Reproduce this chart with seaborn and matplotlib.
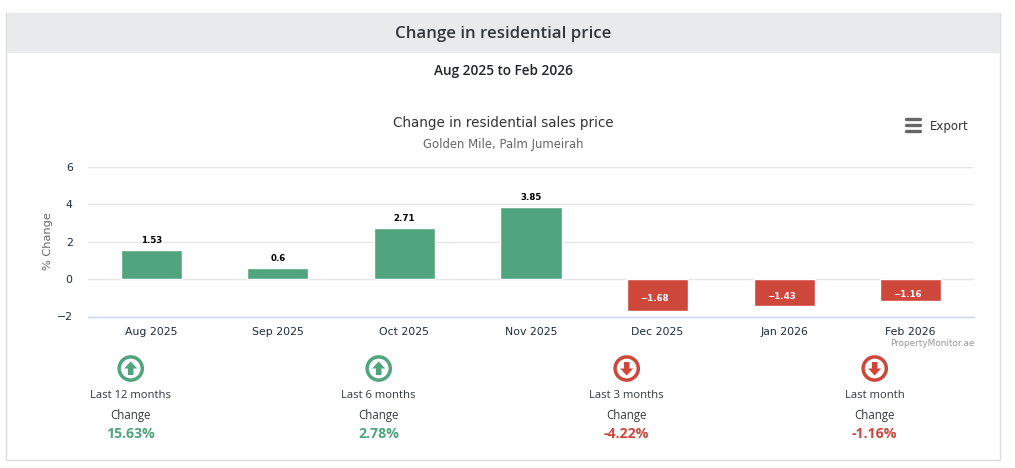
import matplotlib
matplotlib.use('Agg')
import matplotlib.pyplot as plt
from matplotlib.patches import Circle, Polygon, Rectangle
import pandas as pd
import seaborn as sns

# Datos del grafico
months = ['Aug 2025', 'Sep 2025', 'Oct 2025', 'Nov 2025', 'Dec 2025', 'Jan 2026', 'Feb 2026']
changes = [1.53, 0.6, 2.71, 3.85, -1.68, -1.43, -1.16]

period_names = ['Last 12 months', 'Last 6 months', 'Last 3 months', 'Last month']
period_changes = [15.63, 2.78, -4.22, -1.16]

GREEN = '#50a47e'
RED = '#cd473b'
W, H = 1015, 468

sns.set_theme(style='white')
plt.rcParams['font.family'] = ['DejaVu Sans']

df = pd.DataFrame({'month': months, 'change': changes})
df['sign'] = ['up' if c >= 0 else 'down' for c in changes]

fig = plt.figure(figsize=(W / 100, H / 100), dpi=100, facecolor='white')

# Capa en pixeles para el panel, los iconos y los textos
bg = fig.add_axes([0, 0, 1, 1], zorder=0)
bg.set_xlim(0, W)
bg.set_ylim(H, 0)
bg.axis('off')
bg.add_patch(Rectangle((6.5, 12.5), 994, 447.5, fc='white', ec='#dcdcdc', lw=1))
bg.add_patch(Rectangle((7, 13), 993, 40, fc='#e9eaec', ec='none'))
bg.text(503, 33.5, 'Change in residential price', ha='center', va='center',
        fontsize=12.2, color='#33383d', family='Open Sans', weight='semibold')
bg.text(503, 71.5, 'Aug 2025 to Feb 2026', ha='center', va='center',
        fontsize=9.85, color='#212529', family='Open Sans', weight='semibold')

# Grafico de barras
left, right, top, bottom = 88, 974, 166.5, 316.5
ax = fig.add_axes([left / W, 1 - bottom / H, (right - left) / W, (bottom - top) / H], zorder=1)
ax.patch.set_alpha(0)
sns.barplot(data=df, x='month', y='change', hue='sign', dodge=False, legend=False,
            palette={'up': GREEN, 'down': RED}, width=0.482, saturation=1,
            edgecolor='white', linewidth=1, ax=ax, zorder=3)
ax.set_ylim(-1.96, 6)
ax.set_yticks([-2, 0, 2, 4, 6])
ax.set_yticklabels(['\u22122', '0', '2', '4', '6'])
ax.set_xlim(-0.5, 6.5)
ax.grid(axis='y', color='#e6e6e6', lw=1)
ax.set_axisbelow(True)
for s in ['top', 'left', 'right']:
    ax.spines[s].set_visible(False)
ax.spines['bottom'].set_color('#ccd6eb')
ax.spines['bottom'].set_linewidth(1)
ax.set_xlabel('')
ax.set_ylabel('% Change', fontsize=8.2, color='#666666', labelpad=3)
ax.tick_params(axis='x', length=0, pad=7.3, labelsize=7.8, labelcolor='#1c2b3a')
ax.tick_params(axis='y', length=0, pad=11, labelsize=7.8, labelcolor='#1c2b3a')

# Etiquetas sobre las barras
for i, c in enumerate(changes):
    if c >= 0:
        ax.annotate(f'{c:g}', (i, c), xytext=(0, 3.5), textcoords='offset points',
                    ha='center', va='bottom', fontsize=6.2, weight='bold', color='black')
    else:
        ax.annotate(f'{c:g}'.replace('-', '\u2212'), (i, c / 2), xytext=(-2, -3),
                    textcoords='offset points', ha='center', va='center',
                    fontsize=6.2, weight='bold', color='white')

bg.text(503, 122.5, 'Change in residential sales price', ha='center', va='center',
        fontsize=9.75, color='#333333')
bg.text(503, 144.5, 'Golden Mile, Palm Jumeirah', ha='center', va='center',
        fontsize=8.4, color='#666666')
bg.text(974.5, 344, 'PropertyMonitor.ae', ha='right', va='center', fontsize=6.4, color='#999999')
bg.text(930, 126.5, 'Export', ha='left', va='center', fontsize=8.5, color='#333333')
for y in [119, 125, 131]:
    bg.plot([906, 920], [y, y], color='#666666', lw=2.4, solid_capstyle='round')

# Resumen inferior
centers = [130.7, 378.7, 626.7, 874.7]
for cx, name, val in zip(centers, period_names, period_changes):
    col = GREEN if val >= 0 else RED
    cy = 368.5
    bg.add_patch(Circle((cx, cy), 11.6, fc='white', ec=col, lw=2.5))
    d = -1 if val >= 0 else 1
    bg.add_patch(Polygon([(cx - 6.5, cy), (cx, cy + d * 7), (cx + 6.5, cy),
                          (cx + 2.8, cy), (cx + 2.8, cy - d * 6.5), (cx - 2.8, cy - d * 6.5),
                          (cx - 2.8, cy)], closed=True, fc=col, ec='none'))
    bg.text(cx, 395.5, name, ha='center', va='center', fontsize=8.1, color='#33383d', family='Open Sans')
    bg.text(cx, 416, 'Change', ha='center', va='center', fontsize=8.3, color='#33383d', family='Open Sans')
    bg.text(cx, 434.5, f'{val:.2f}%', ha='center', va='center', fontsize=10.2, color=col,
            family='Open Sans', weight='bold')

fig.savefig('out.png', dpi=100)
